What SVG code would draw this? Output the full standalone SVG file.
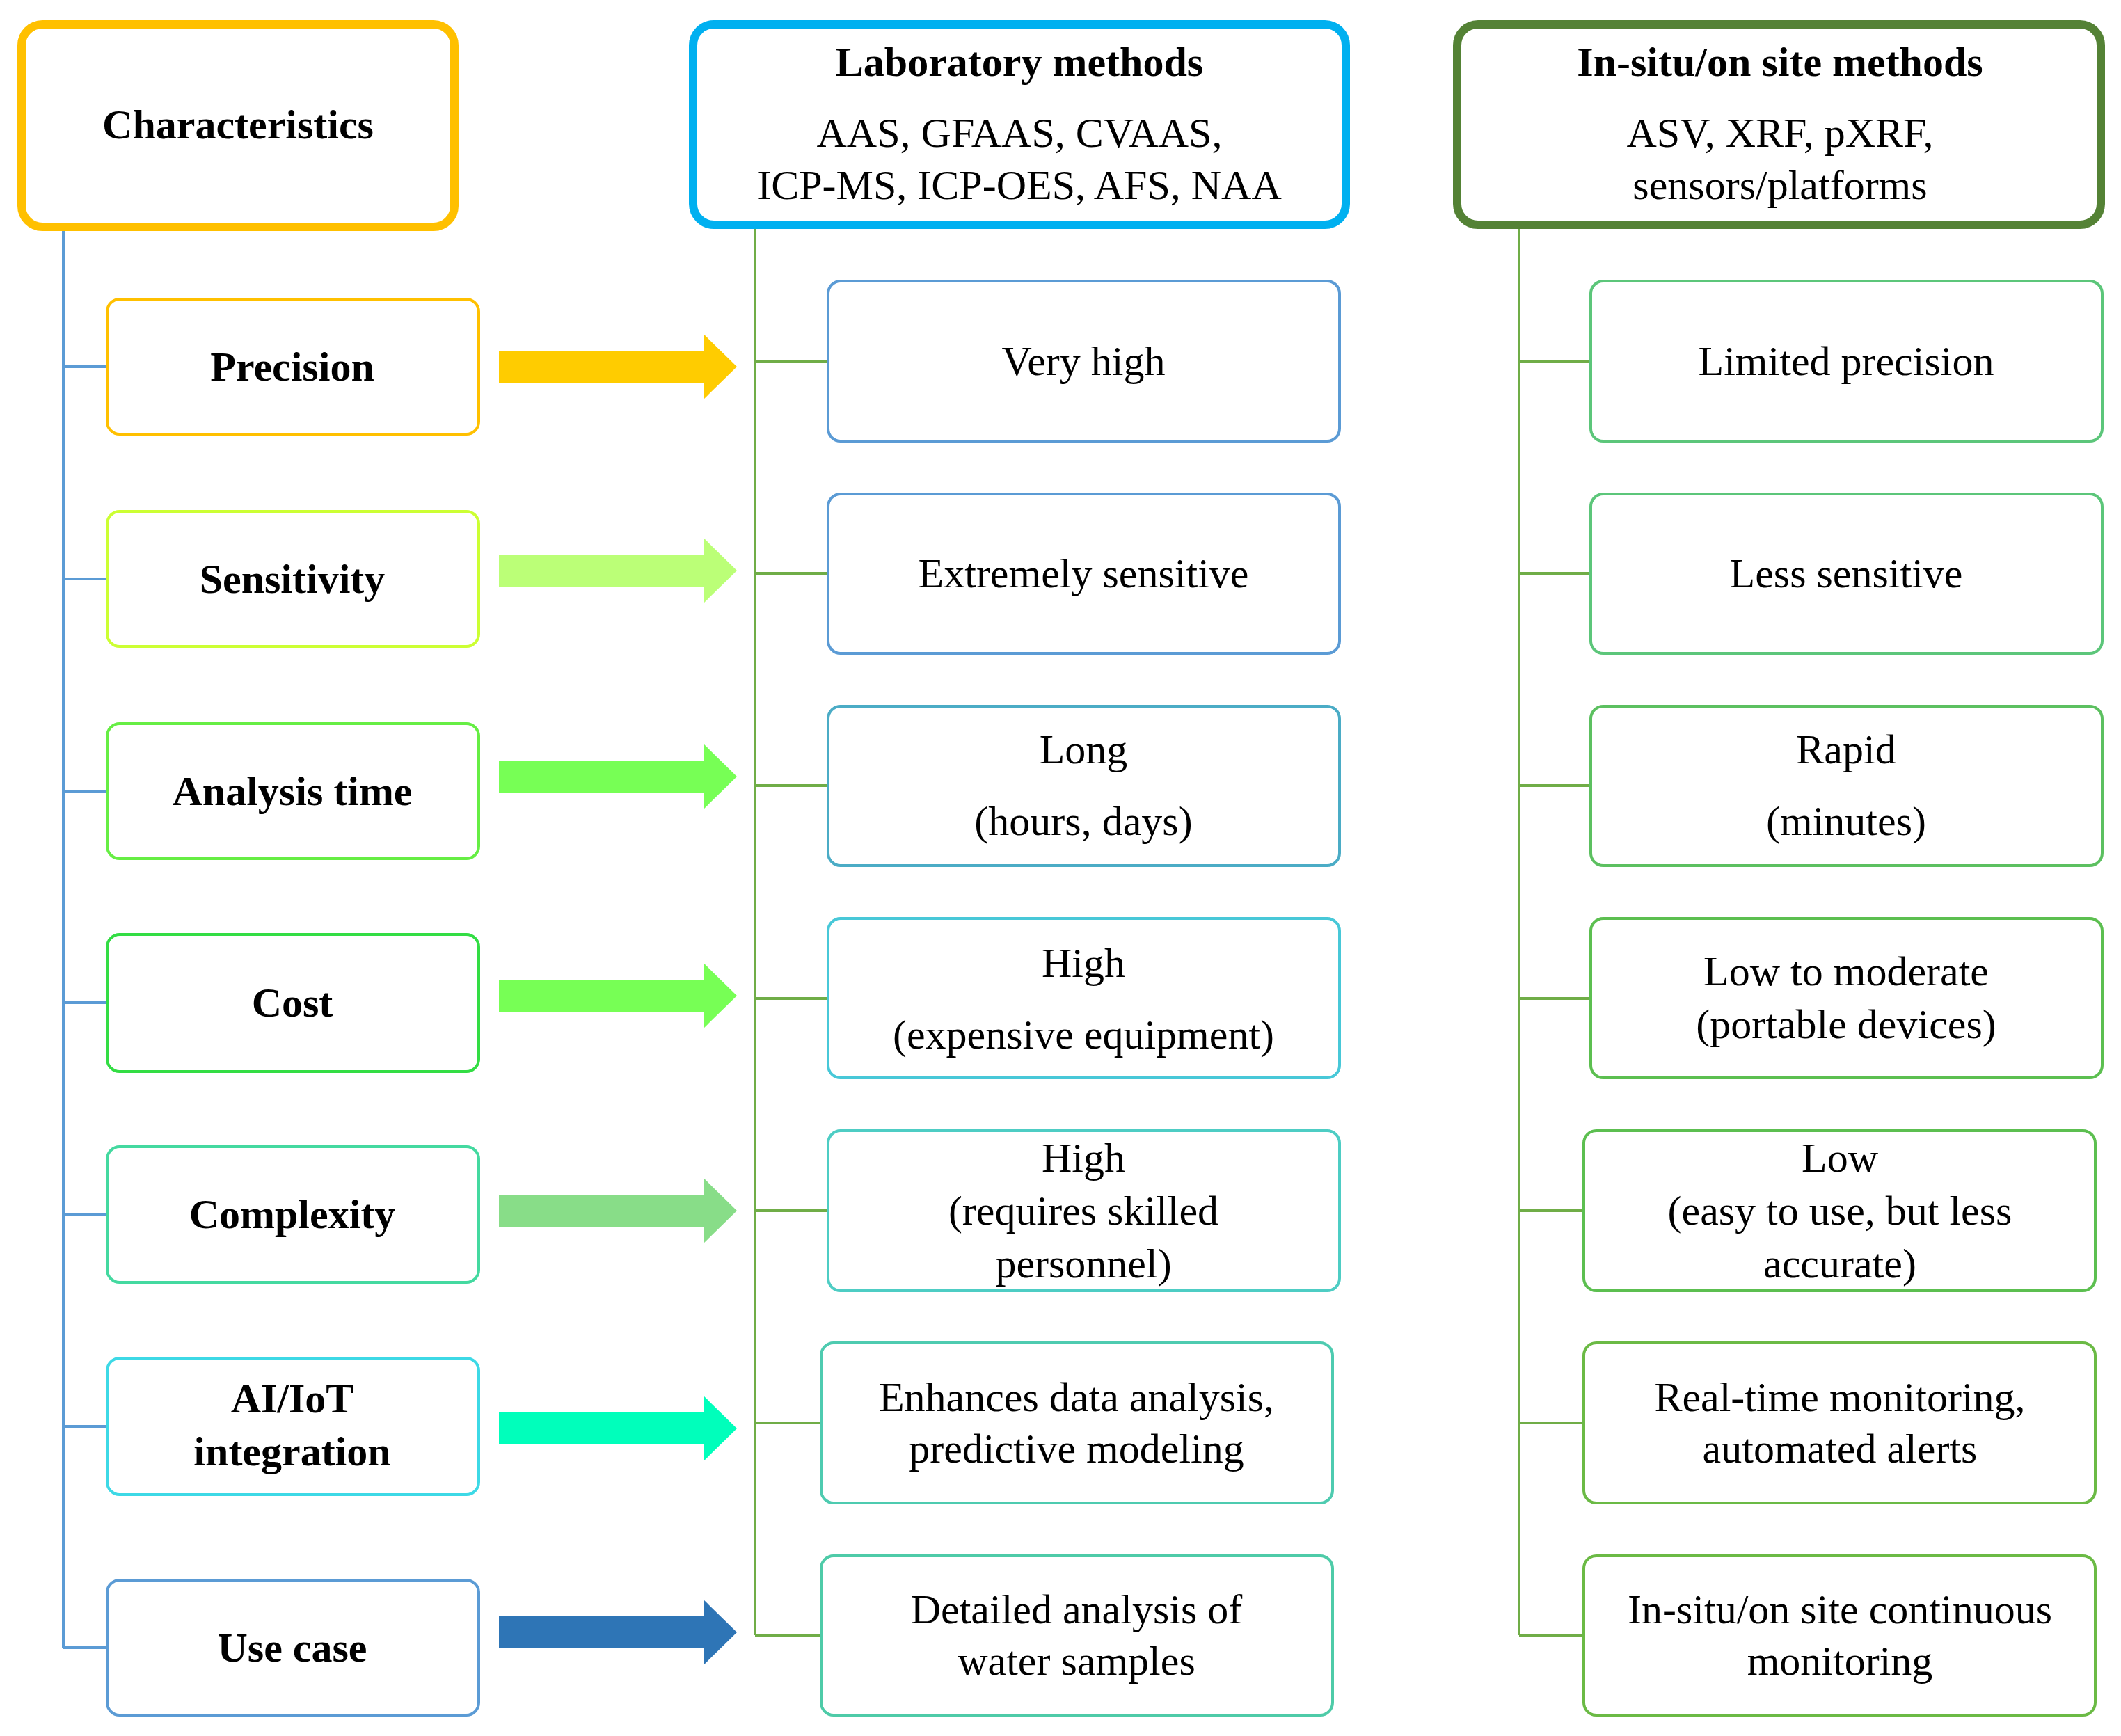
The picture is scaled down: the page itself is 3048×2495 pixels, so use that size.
<svg xmlns="http://www.w3.org/2000/svg" width="3048" height="2495" viewBox="0 0 3048 2495">
<style>
text{font-family:"Liberation Serif","DejaVu Serif",serif;font-size:60px;text-anchor:middle;dominant-baseline:central;fill:#000}
.b{font-weight:bold}
.hd{fill:#fff;stroke-width:12}
.bx{fill:#fff;stroke-width:4}
.ln{fill:none;stroke-width:4}
</style>
<rect width="3048" height="2495" fill="#fff"/>
<g id="connectors">
<path class="ln" stroke="#5B9BD5" d="M91 332V2368M91 527H154M91 832H154M91 1137H154M91 1441H154M91 1745H154M91 2050H154M91 2368H154"/>
<path class="ln" stroke="#70AD47" d="M1085 329V2350M1085 519H1190M1085 824H1190M1085 1129H1190M1085 1435H1190M1085 1740H1190M1085 2045H1180M1085 2350H1180"/>
<path class="ln" stroke="#70AD47" d="M2183 329V2350M2183 519H2286M2183 824H2286M2183 1129H2286M2183 1435H2286M2183 1740H2276M2183 2045H2276M2183 2350H2276"/>
<path fill="#FFCC00" d="M717 504H1011V480L1059 527L1011 574V550H717Z"/>
<path fill="#BBFF77" d="M717 797H1011V773L1059 820L1011 867V843H717Z"/>
<path fill="#77FF55" d="M717 1093H1011V1069L1059 1116L1011 1163V1139H717Z"/>
<path fill="#77FF55" d="M717 1408H1011V1384L1059 1431L1011 1478V1454H717Z"/>
<path fill="#88DD88" d="M717 1717H1011V1693L1059 1740L1011 1787V1763H717Z"/>
<path fill="#00FFBB" d="M717 2030H1011V2006L1059 2053L1011 2100V2076H717Z"/>
<path fill="#2E75B6" d="M717 2323H1011V2299L1059 2346L1011 2393V2369H717Z"/>
</g>
<g id="characteristics"><rect class="hd" x="31" y="35" width="622" height="291" rx="30" stroke="#FFC000"/><text class="b" x="342" y="179">Characteristics</text></g>
<g id="lab"><rect class="hd" x="996" y="35" width="938" height="288" rx="30" stroke="#00B0F0"/><text class="b" x="1465" y="89">Laboratory methods</text><text x="1465" y="191">AAS, GFAAS, CVAAS,</text><text x="1465" y="266">ICP-MS, ICP-OES, AFS, NAA</text></g>
<g id="insitu"><rect class="hd" x="2094" y="35" width="925" height="288" rx="30" stroke="#548235"/><text class="b" x="2558" y="89">In-situ/on site methods</text><text x="2558" y="191">ASV, XRF, pXRF,</text><text x="2558" y="266">sensors/platforms</text></g>
<g id="precision"><rect class="bx" x="154" y="430" width="534" height="194" rx="18" stroke="#FFC000"/><text class="b" x="420" y="527">Precision</text></g>
<g id="sensitivity"><rect class="bx" x="154" y="735" width="534" height="194" rx="18" stroke="#CCFF33"/><text class="b" x="420" y="832">Sensitivity</text></g>
<g id="analysis"><rect class="bx" x="154" y="1040" width="534" height="194" rx="18" stroke="#66EE44"/><text class="b" x="420" y="1137">Analysis time</text></g>
<g id="cost"><rect class="bx" x="154" y="1343" width="534" height="197" rx="18" stroke="#33DD44"/><text class="b" x="420" y="1441">Cost</text></g>
<g id="complexity"><rect class="bx" x="154" y="1648" width="534" height="195" rx="18" stroke="#44D9A0"/><text class="b" x="420" y="1745">Complexity</text></g>
<g id="aiiot"><rect class="bx" x="154" y="1952" width="534" height="196" rx="18" stroke="#3DD9E6"/><text class="b" x="420" y="2010">AI/IoT</text><text class="b" x="420" y="2086">integration</text></g>
<g id="usecase"><rect class="bx" x="154" y="2271" width="534" height="194" rx="18" stroke="#5B9BD5"/><text class="b" x="420" y="2368">Use case</text></g>
<g id="lab1"><rect class="bx" x="1190" y="404" width="735" height="230" rx="18" stroke="#5B9BD5"/><text x="1557" y="519">Very high</text></g>
<g id="lab2"><rect class="bx" x="1190" y="710" width="735" height="229" rx="18" stroke="#5B9BD5"/><text x="1557" y="824">Extremely sensitive</text></g>
<g id="lab3"><rect class="bx" x="1190" y="1015" width="735" height="229" rx="18" stroke="#4BACC6"/><text x="1557" y="1077">Long</text><text x="1557" y="1180">(hours, days)</text></g>
<g id="lab4"><rect class="bx" x="1190" y="1320" width="735" height="229" rx="18" stroke="#48C8D8"/><text x="1557" y="1384">High</text><text x="1557" y="1487">(expensive equipment)</text></g>
<g id="lab5"><rect class="bx" x="1190" y="1625" width="735" height="230" rx="18" stroke="#4ECDC4"/><text x="1557" y="1664">High</text><text x="1557" y="1740">(requires skilled</text><text x="1557" y="1816">personnel)</text></g>
<g id="lab6"><rect class="bx" x="1180" y="1930" width="735" height="230" rx="18" stroke="#4ECBB0"/><text x="1547" y="2008">Enhances data analysis,</text><text x="1547" y="2082">predictive modeling</text></g>
<g id="lab7"><rect class="bx" x="1180" y="2236" width="735" height="229" rx="18" stroke="#4ECBA8"/><text x="1547" y="2313">Detailed analysis of</text><text x="1547" y="2387">water samples</text></g>
<g id="in1"><rect class="bx" x="2286" y="404" width="735" height="230" rx="18" stroke="#5CC67A"/><text x="2653" y="519">Limited precision</text></g>
<g id="in2"><rect class="bx" x="2286" y="710" width="735" height="229" rx="18" stroke="#5CC67A"/><text x="2653" y="824">Less sensitive</text></g>
<g id="in3"><rect class="bx" x="2286" y="1015" width="735" height="229" rx="18" stroke="#5CC060"/><text x="2653" y="1077">Rapid</text><text x="2653" y="1180">(minutes)</text></g>
<g id="in4"><rect class="bx" x="2286" y="1320" width="735" height="229" rx="18" stroke="#5CBF50"/><text x="2653" y="1396">Low to moderate</text><text x="2653" y="1472">(portable devices)</text></g>
<g id="in5"><rect class="bx" x="2276" y="1625" width="735" height="230" rx="18" stroke="#5CBF50"/><text x="2644" y="1664">Low</text><text x="2644" y="1740">(easy to use, but less</text><text x="2644" y="1816">accurate)</text></g>
<g id="in6"><rect class="bx" x="2276" y="1930" width="735" height="230" rx="18" stroke="#6BBA45"/><text x="2644" y="2008">Real-time monitoring,</text><text x="2644" y="2082">automated alerts</text></g>
<g id="in7"><rect class="bx" x="2276" y="2236" width="735" height="229" rx="18" stroke="#6BBA45"/><text x="2644" y="2313">In-situ/on site continuous</text><text x="2644" y="2387">monitoring</text></g>
</svg>
